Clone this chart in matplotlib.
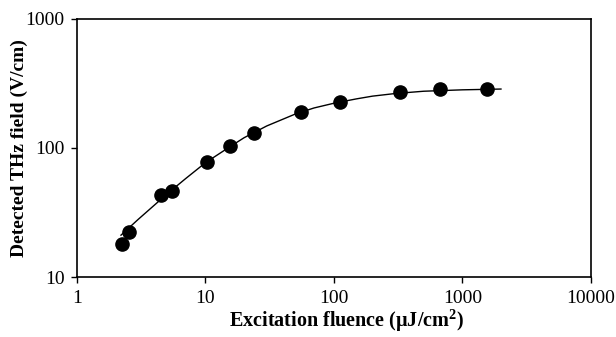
import matplotlib
matplotlib.use('Agg')
import matplotlib.pyplot as plt

# measured points (excitation fluence uJ/cm2, detected THz field V/cm)
fluence = [2.24, 2.54, 4.5, 5.48, 10.2, 15.4, 23.8, 55.3, 111, 326, 672, 1570]
field = [18.0, 22.3, 43.2, 46.4, 77.4, 104, 131.5, 189, 227, 272, 285, 285]

# saturation curve
curve_f = [2.2, 3, 5, 7, 10, 15, 20, 30, 50, 70, 100, 150, 200, 300, 500, 1000, 2000]
curve_e = [21.1, 28.0, 43.8, 57.8, 76.8, 100, 120, 148, 183, 204, 222, 240, 252, 264, 275, 282, 286]

plt.rcParams['font.family'] = 'Liberation Serif'
plt.rcParams['mathtext.fontset'] = 'custom'
plt.rcParams['mathtext.rm'] = 'Liberation Serif:bold'
plt.rcParams['mathtext.bf'] = 'Liberation Serif:bold'

fig = plt.figure(figsize=(6.16, 3.37), dpi=100)
ax = fig.add_axes([0.125, 0.178, 0.834, 0.766])

ax.plot(curve_f, curve_e, color='black', lw=1.0)
ax.plot(fluence, field, 'o', color='black', markersize=9.5)

ax.set_xscale('log')
ax.set_yscale('log')
ax.set_xlim(1, 10000)
ax.set_ylim(10, 1000)
ax.set_xticks([1, 10, 100, 1000, 10000])
ax.set_xticklabels(['1', '10', '100', '1000', '10000'])
ax.set_yticks([10, 100, 1000])
ax.set_yticklabels(['10', '100', '1000'])
ax.minorticks_off()
ax.tick_params(direction='out', length=4, width=1, labelsize=14, pad=5)

for s in ax.spines.values():
    s.set_linewidth(1.2)

# axis titles placed where they sit in the picture
fig.text(0.5617, 0.05, 'Excitation fluence (\u03bcJ/cm$^{\\mathbf{2}}$)', fontsize=14.5,
         fontweight='bold', ha='center', va='center')
fig.text(0.031, 0.561, 'Detected THz field (V/cm)', fontsize=14, fontweight='bold',
         ha='center', va='center', rotation=90)

fig.savefig('out.png', dpi=100)
